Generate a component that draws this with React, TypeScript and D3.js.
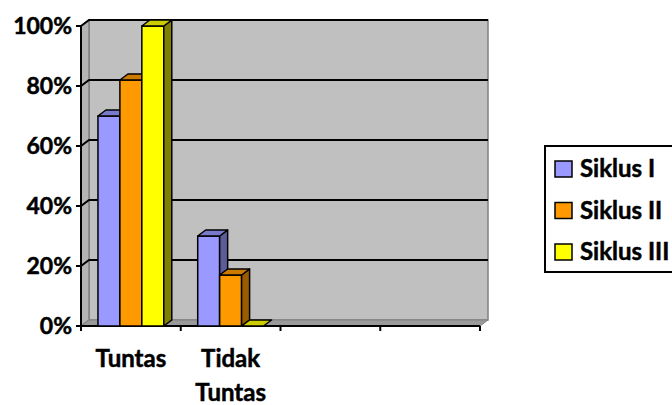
import React from "react";
import * as d3 from "d3";

const categories = ["Tuntas", "Tidak Tuntas", "", " "];
const categoryLines = [["Tuntas"], ["Tidak", "Tuntas"], [], []];
const seriesNames = ["Siklus I", "Siklus II", "Siklus III"];
const siklus1 = [0.7, 0.3];
const siklus2 = [0.82, 0.17];
const siklus3 = [1.0, 0.0];
const yTicks = [0, 0.2, 0.4, 0.6, 0.8, 1.0];

const seriesValues = [siklus1, siklus2, siklus3];
const fronts = ["#9999FF", "#FF9900", "#FFFF00"];
const tops = ["#7A7ACC", "#CC7A00", "#CCCC00"];
const sides = ["#5C5C99", "#995C00", "#808000"];

const W = 672, H = 405;
const left = 81, right = 480, top = 26, bottom = 326;
const dx = 8, dy = -6;
const FONT = "Lato, 'Open Sans', sans-serif";
const textStyle = { fontFamily: FONT, fontWeight: 700, fill: "#000", stroke: "#000", strokeWidth: 0.5 } as const;

export default function App() {
  const y = d3.scaleLinear().domain([0, 1]).range([bottom, top]);
  const x = d3.scaleBand<string>().domain(categories).range([left, right]);
  const inner = d3.scaleBand<string>().domain(seriesNames).range([0, x.bandwidth()]).paddingOuter(0.7727).paddingInner(0);
  const pts = (a: number[][]) => a.map((p) => p.join(",")).join(" ");

  const bars: React.ReactNode[] = [];
  categories.forEach((c, ci) => {
    seriesNames.forEach((s, si) => {
      const v = seriesValues[si][ci];
      if (v === undefined) return;
      const x0 = (x(c) as number) + (inner(s) as number);
      const x1 = x0 + inner.bandwidth();
      const yt = y(v);
      bars.push(
        <g key={c + s} stroke="#000" strokeWidth={1.5} strokeLinejoin="round">
          {v > 0 && <rect x={x0} y={yt} width={x1 - x0} height={bottom - yt} fill={fronts[si]} />}
          {v > 0 && <polygon points={pts([[x1, yt], [x1 + dx, yt + dy], [x1 + dx, bottom + dy], [x1, bottom]])} fill={sides[si]} />}
          <polygon points={pts([[x0, yt], [x1, yt], [x1 + dx, yt + dy], [x0 + dx, yt + dy]])} fill={tops[si]} />
        </g>
      );
    });
  });

  return (
    <svg width={W} height={H} style={{ display: "block", position: "absolute", left: 0, top: 0 }}>
      <rect x={0} y={0} width={W} height={H} fill="#fff" />
      {/* back wall */}
      <rect x={left + dx} y={top + dy} width={right - left} height={bottom - top} fill="#C0C0C0" stroke="#808080" strokeWidth={1.5} />
      {/* side wall */}
      <polygon points={pts([[left, top], [left + dx, top + dy], [left + dx, bottom + dy], [left, bottom]])} fill="#B4B4B4" stroke="#808080" strokeWidth={1.5} />
      {/* floor */}
      <polygon points={pts([[left, bottom], [right, bottom], [right + dx, bottom + dy], [left + dx, bottom + dy]])} fill="#9A9A9A" stroke="#808080" strokeWidth={1} />
      {/* gridlines */}
      {yTicks.filter((t) => t > 0).map((t) => (
        <polyline key={t} points={pts([[left, y(t)], [left + dx, y(t) + dy], [right + dx, y(t) + dy]])} fill="none" stroke="#000" strokeWidth={2} />
      ))}
      {/* axes */}
      <line x1={left} y1={top} x2={left} y2={bottom} stroke="#000" strokeWidth={2} />
      <line x1={left} y1={bottom} x2={right} y2={bottom} stroke="#000" strokeWidth={2} />
      {yTicks.map((t) => (
        <line key={"yt" + t} x1={left - 5} y1={y(t)} x2={left} y2={y(t)} stroke="#000" strokeWidth={2} />
      ))}
      {[...categories.map((c) => x(c) as number), right].map((xx, i) => (
        <line key={"xt" + i} x1={xx} y1={bottom} x2={xx} y2={bottom + 5} stroke="#000" strokeWidth={2} />
      ))}
      {bars}
      {/* y labels */}
      {yTicks.map((t) => (
        <text key={"yl" + t} x={72} y={y(t) + 8} textAnchor="end" fontSize={23} {...textStyle}>
          {d3.format(".0%")(t)}
        </text>
      ))}
      {/* x labels */}
      {categories.map((c, ci) =>
        categoryLines[ci].map((line, li) => (
          <text key={c + li} x={(x(c) as number) + x.bandwidth() / 2} y={367 + li * 34} textAnchor="middle" fontSize={24} {...textStyle}>
            {line}
          </text>
        ))
      )}
      {/* legend */}
      <rect x={545} y={146} width={140} height={126} fill="#fff" stroke="#000" strokeWidth={2} />
      {seriesNames.map((s, si) => (
        <g key={"lg" + s}>
          <rect x={555} y={161 + si * 41.5} width={17} height={16} fill={fronts[si]} stroke="#000" strokeWidth={1.5} />
          <text x={580} y={177 + si * 41.5} fontSize={24} {...textStyle}>{s}</text>
        </g>
      ))}
    </svg>
  );
}
